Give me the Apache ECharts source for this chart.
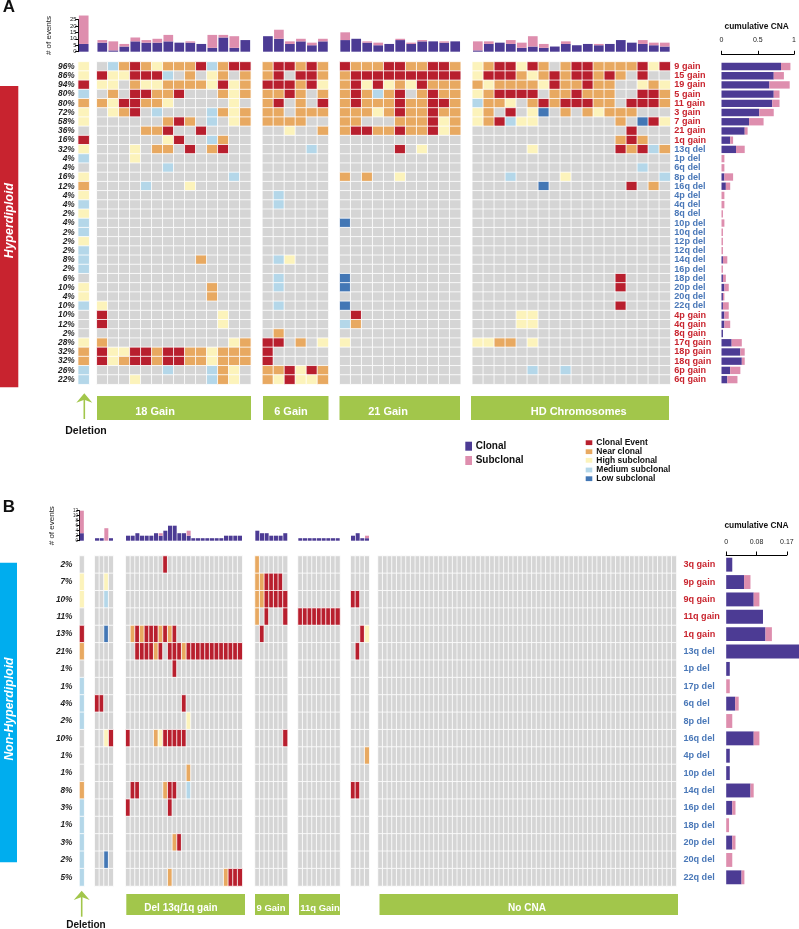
<!DOCTYPE html>
<html><head><meta charset="utf-8">
<style>html,body{margin:0;padding:0;background:#fff}#c{width:799px;height:929px}</style>
<script src="https://cdn.jsdelivr.net/npm/echarts@6/dist/echarts.min.js"></script>
</head><body><div id="c"></div>
<script>
// ---------- Panel A data ----------
const rowsA = ['9 gain','15 gain','19 gain','5 gain','11 gain','3 gain','7 gain','21 gain','1q gain','13q del','1p del','6q del','8p del','16q del','4p del','4q del','8q del','10p del','10q del','12p del','12q del','14q del','16p del','18p del','20p del','20q del','22q del','4p gain','4q gain','8q gain','17q gain','18p gain','18q gain','6p gain','6q gain'];
const pctA = [96,86,94,80,80,72,58,36,16,32,4,4,16,12,4,4,2,4,2,2,2,8,2,6,10,4,10,10,12,2,28,32,32,26,22];
// cell codes: . none, R clonal event, O near clonal, Y high, B medium, D low subclonal
const heatADel = ['Y','Y','R','B','O','Y','Y','.','R','Y','B','.','Y','O','Y','B','Y','B','B','Y','B','B','B','.','Y','Y','B','.','.','.','Y','O','O','B','B'];
const heatA18 = ['.BOROYOOORBORR','RYYRRRB.O.YO.O','YY.OYYOOOOYRYO','.O.RROOR...OYO','OYRROOY.....Y.','.YOR.B....BOYO','......ORO.B.YO','....OOR..R....','......YR..BO..','...Y.OO.R.OR..','...Y','......B','............B','....B...Y','','','','','','','','.........O','','','..........O','..........O','Y','R..........Y','R..........Y','','O...........YO','RYYRRORROOYOOO','RYORRORROOYOOO','......B...BOY.','...Y......BOY.'];
const heatA6 = ['ORRORO','OR.RRO','RRRORY','OORO.O','OR.O.R','OO.OOO','OOOO..','..Y..O','','....B.','','','','','.B','.B','','','','','','.BY','','.B','.B','','.B','','','.O','RR.O.Y','R','R','OORYRO','OYRYYO'];
const heatA21 = ['ROOORROORRO','ORRRRRRRRRR','ORYRYOYROOO','OROBOR.OROO','OROOOROORRO','OOOYOROOROO','OO...OOORYO','ORROOROORYO','','.....R.Y','','','O.O..Y','','','','','D','','','','','','D','D','','D','.R','BO','','Y','','','',''];
const heatAHD = ['YORRYRO.ORROOOORYR','YRRROYORORRORO.R..','OYOOOOYROOROO..YOY','YORRRR.OOROOO..RRO','BOOY.ORORRROO.RRRO','YO.R.YD.O.OYOOO...','YORBYY.......O.DRY','..............R','.............ORO','.....Y.......RORBO','','...............B','...B....Y........B','......D.......R.O','','','','','','','','','','.............R','.............R','','.............R','....YY','....YY','','YYOO.Y','','','.....B..B',''];
const barClonalA = [[6],[7,1,4,8,7,7,8,7,7,6,3,11,3,9],[12,10,6,8,5,8],[9,10,7,5,6,9,6,8,8,7,8],[1,6,7,6,3,4,3,4,6,5,6,5,6,9,7,6,5,4]];
const barSubA = [[22],[2,7,2,3,2,3,5,0,1,0,10,2,9,0],[0,7,2,2,2,2],[6,0,1,2,0,1,1,1,0,1,0],[7,2,0,3,4,8,3,0,2,0,0,1,0,0,0,3,2,3]];
const cnaClonalA = [.82,.72,.66,.72,.70,.52,.38,.32,.12,.20,0,0,.04,.06,0,0,0,0,0,0,0,.02,0,.02,.04,.02,.02,.04,.04,.02,.14,.26,.28,.12,.08];
const cnaSubA = [.13,.14,.28,.08,.10,.20,.20,.04,.04,.12,.04,.04,.12,.06,.04,.04,.02,.04,.02,.02,.02,.06,.02,.04,.06,.02,.08,.06,.08,0,.14,.06,.04,.14,.14];
const eventTicksA = [0,5,10,15,20,25];
const cnaTicksA = ['0','0.5','1'];
const groupLabelsA = ['18 Gain','6 Gain','21 Gain','HD Chromosomes'];
// ---------- Panel B data ----------
const rowsB = ['3q gain','9p gain','9q gain','11q gain','1q gain','13q del','1p del','17p del','6q del','8p del','16q del','4p del','10p del','14q del','16p del','18p del','20p del','20q del','22q del'];
const pctB = [2,7,10,11,13,21,1,1,4,2,10,1,1,8,3,1,3,2,5];
const heatBDel = ['.','Y','Y','.','R','O','.','B','B','B','.','.','.','O','B','B','B','B','B'];
const heatBEarly = ['','..Y','..B','','..D','','','','RR','','..YR','','','','','','','..D',''];
const heatB13q = ['........R','','','','.ORORRROROR','..RRRROR.RRRORRRRRRRRRRRR','..........R','','............R','.............Y','R.....OYRRRRR','','.............O','.RR.....ORR..B','R........R','','..........OR','','.........O...........ORRR'];
const heatB9 = ['O','OORRRR','OORRRRR','O.R...R','.R','','','','','','......R','','','','','','','',''];
const heatB11 = ['','','','RRRRRRRRR','','','','','','','','','','','','','','',''];
const heatBLate = ['','','RR','','..RY','.R','','','','','','...O','','RR','','','','',''];
const heatBNone = ['','','','','','','','','','','','','','','','','','',''];
const barClonalB = [[3],[1,1,0,1],[2,2,3,2,2,2,3,2,4,6,6,3,3,2,1,1,1,1,1,1,1,2,2,2,2],[4,3,3,2,2,2,3],[1,1,1,1,1,1,1,1,1],[2,3,1,1]];
const barSubB = [[9],[0,0,5,0],[0,0,0,0,0,0,0,1,0,0,0,0,0,2,0,0,0,0,0,0,0,0,0,0,0],[0,0,0,0,0,0,0],[0,0,0,0,0,0,0,0,0],[0,0,0,1]];
const cnaClonalB = [.017,.05,.077,.103,.11,.21,.01,0,.025,0,.077,.01,.01,.068,.017,0,.017,0,.043];
const cnaSubB = [0,.018,.016,0,.018,0,0,.01,.01,.017,.016,0,0,.009,.009,.008,.009,.017,.008];
const eventTicksB = [0,2,4,6,8,10,12];
const cnaTicksB = ['0','0.08','0.17'];
const groupLabelsB = ['Del 13q/1q gain','9 Gain','11q Gain','No CNA'];
const legendEvents = ['Clonal Event','Near clonal','High subclonal','Medium subclonal','Low subclonal'];
const legendClones = ['Clonal','Subclonal'];

// ---------- Styles and layout ----------
const cellColor = {'.':'#d5d5d5',R:'#b81f2e',O:'#e8a961',Y:'#fcf3bb',B:'#b4d7e9',D:'#4377b5'};
const NAVY='#4c3b94', PINK='#de8eae', GREEN='#a2c64b', RED='#c8232f', LBL_RED='#c9252f', LBL_BLUE='#4a78b8';
const FONT='"Liberation Sans",Arial,sans-serif';
const grid=[],xAxis=[],yAxis=[],series=[];

function addGrid(g,x,y){const i=grid.length;grid.push(g);xAxis.push(Object.assign({gridIndex:i},x));yAxis.push(Object.assign({gridIndex:i},y));return i;}
const hiddenCat=(data,extra)=>Object.assign({type:'category',data,axisLine:{show:false},axisTick:{show:false},axisLabel:{show:false},splitLine:{show:false}},extra||{});

function addHeat(matrix,nCols,rows,left,width,top,height,yExtra,bw){
  const cols=Array.from({length:nCols},(_,i)=>String(i));
  const i=addGrid({left,width,top,height},hiddenCat(cols),hiddenCat(rows,Object.assign({inverse:true},yExtra||{})));
  const data=[];
  matrix.forEach((s,r)=>{const row=s.padEnd(nCols,'.');for(let c=0;c<nCols;c++){data.push({value:[c,r,1],itemStyle:{color:cellColor[row[c]]}});}});
  series.push({type:'heatmap',xAxisIndex:i,yAxisIndex:i,data,silent:true,progressive:0,animation:false,itemStyle:{borderColor:'#fff',borderWidth:bw},emphasis:{disabled:true}});
}
function addBars(clonal,sub,left,width,top,height,ticks,yExtra,bw){
  const cols=clonal.map((_,i)=>String(i));
  const y=Object.assign({type:'value',min:0,max:ticks[ticks.length-1],interval:ticks[1]-ticks[0],show:false,splitLine:{show:false}},yExtra||{});
  const i=addGrid({left,width,top,height},hiddenCat(cols),y);
  [[clonal,NAVY],[sub,PINK]].forEach(([d,c])=>series.push({type:'bar',xAxisIndex:i,yAxisIndex:i,stack:'s'+i,data:d,barWidth:bw,clip:false,silent:true,itemStyle:{color:c},animation:false}));
}
function addCna(clonal,sub,rows,left,width,top,height,max,interval,labels,offset,margin){
  const i=addGrid({left,width,top,height},
   {type:'value',position:'top',min:0,max,interval,offset,
    axisLine:{show:true,lineStyle:{color:'#000',width:1}},axisTick:{show:true,length:3.5,lineStyle:{color:'#000'}},
    axisLabel:{fontSize:7,color:'#222',fontFamily:FONT,margin,hideOverlap:false,formatter:(v)=>labels[Math.round(v/interval)]},splitLine:{show:false}},
   hiddenCat(rows,{inverse:true}));
  [[clonal,NAVY],[sub,PINK]].forEach(([d,c])=>series.push({type:'bar',xAxisIndex:i,yAxisIndex:i,stack:'s'+i,data:d,barWidth:'80%',clip:false,silent:true,itemStyle:{color:c},animation:false}));
}
const rowLabelY=(margin,fs)=>({position:'right',axisLabel:{show:true,interval:0,margin,fontSize:fs,fontWeight:'bold',fontFamily:FONT,color:(v)=>v.indexOf('gain')>=0?LBL_RED:LBL_BLUE}});
const pctLabelY=(pct,margin)=>({axisLabel:{show:true,interval:0,margin,fontSize:8.3,fontWeight:'bold',fontStyle:'italic',fontFamily:FONT,color:'#222',formatter:(v,i)=>pct[i]+'%'}});
const evY=(gap,fs)=>({show:true,name:'# of events',nameLocation:'middle',nameRotate:90,nameGap:gap,nameTextStyle:{fontSize:8,color:'#222',fontFamily:FONT},
  axisLine:{show:true,lineStyle:{color:'#000'}},axisTick:{show:true,length:3,lineStyle:{color:'#000'}},axisLabel:{fontSize:fs,lineHeight:fs,margin:1.5,color:'#222',fontFamily:FONT,hideOverlap:false}});

// Panel A layout
const A={top:61.9,h:322.3,barTop:19.4,barH:32.3};
const colsA=[[heatADel,78.2,11],[heatA18,96.8,154],[heatA6,262.4,66],[heatA21,339.7,121],[heatAHD,472.3,198]];
const nA=[1,14,6,11,18];
colsA.forEach(([m,l,w],k)=>{
  const extra=k===0?pctLabelY(pctA,3.5):k===4?rowLabelY(4,9.1):null;
  addHeat(m,nA[k],rowsA,l,w,A.top,A.h,extra,0.8);
  addBars(barClonalA[k],barSubA[k],l,w,A.barTop,A.barH,eventTicksA,k===0?evY(25,6):null,'88%');
});
addCna(cnaClonalA,cnaSubA,rowsA,721.5,76.7,A.top,A.h,1,0.5,cnaTicksA,7.6,10.5);

// Panel B layout
const B={top:556,h:330,barTop:510.7,barH:30};
const colsB=[[heatBDel,79.5,4.66,1],[heatBEarly,94.7,18.6,4],[heatB13q,125.7,116.6,25],[heatB9,255,32.6,7],[heatB11,298,42,9],[heatBLate,350.7,18.6,4],[heatBNone,378,298.4,64]];
colsB.forEach(([m,l,w,n],k)=>{
  const extra=k===0?pctLabelY(pctB,7):k===6?rowLabelY(7,9.1):null;
  addHeat(m,n,rowsB,l,w,B.top,B.h,extra,0.8);
  if(k<6) addBars(barClonalB[k],barSubB[k],l,w,B.barTop,B.barH,eventTicksB,k===0?evY(24,4.6):null,'86%');
});
addCna(cnaClonalB,cnaSubB,rowsB,726.2,60.7,B.top,B.h,0.17,0.085,cnaTicksB,1,9);

// Annotations
const txt=(text,x,y,o)=>({type:'text',x,y,silent:true,style:Object.assign({text,fill:'#111',font:'bold 10px '+FONT,align:'center',verticalAlign:'middle'},o||{})});
const rect=(x,y,w,h,fill)=>({type:'rect',silent:true,shape:{x,y,width:w,height:h},style:{fill}});
const arrow=(x,tip,neck,end)=>[
 {type:'line',silent:true,shape:{x1:x,y1:neck-4,x2:x,y2:end},style:{stroke:GREEN,lineWidth:1.6}},
 {type:'polygon',silent:true,shape:{points:[[x,tip],[x+8,neck],[x,neck-3],[x-8,neck]]},style:{fill:GREEN}}];
const white={fill:'#fff'};
const gfx=[
 txt('A',9,7.5,{font:'bold 17px '+FONT}),txt('B',9,507,{font:'bold 17px '+FONT}),
 rect(0,86,18.3,301.3,RED),rect(0,562.7,17,299.6,'#00adee'),
 {type:'text',x:10,y:220.6,rotation:Math.PI/2,silent:true,style:{text:'Hyperdiploid',fill:'#fff',font:'italic bold 12.3px '+FONT,align:'center',verticalAlign:'middle'}},
 {type:'text',x:9.5,y:709,rotation:Math.PI/2,silent:true,style:{text:'Non-Hyperdiploid',fill:'#fff',font:'italic bold 12.3px '+FONT,align:'center',verticalAlign:'middle'}},
 rect(97,396,154,24,GREEN),rect(263,396,65.5,24,GREEN),rect(339.5,396,120.5,24,GREEN),rect(471,396,198,24,GREEN),
 txt(groupLabelsA[0],155,412,Object.assign({font:'bold 11px '+FONT},white)),txt(groupLabelsA[1],291,412,Object.assign({font:'bold 11px '+FONT},white)),
 txt(groupLabelsA[2],388,412,Object.assign({font:'bold 11px '+FONT},white)),txt(groupLabelsA[3],578.7,411.5,Object.assign({font:'bold 11px '+FONT},white)),
 rect(126.3,894,118.7,21,GREEN),rect(255,894,34,21,GREEN),rect(299,894,41,21,GREEN),rect(379.5,894,298.5,21,GREEN),
 txt(groupLabelsB[0],181,908,Object.assign({font:'bold 10px '+FONT},white)),txt(groupLabelsB[1],271,908,Object.assign({font:'bold 9.5px '+FONT},white)),
 txt(groupLabelsB[2],320,908,Object.assign({font:'bold 9.5px '+FONT},white)),txt(groupLabelsB[3],527,908,Object.assign({font:'bold 10px '+FONT},white)),
 ...arrow(84.3,393.3,402.7,419),...arrow(81.7,890.7,900,916.7),
 txt('Deletion',86,431,{font:'bold 10.5px '+FONT}),txt('Deletion',86,925,{font:'bold 10px '+FONT}),
 txt('cumulative CNA',756.7,27,{font:'bold 8.4px '+FONT}),txt('cumulative CNA',756.5,526,{font:'bold 8.4px '+FONT}),
 rect(465.3,441.7,6.7,9,NAVY),rect(465.3,456,6.7,9,PINK),
 txt(legendClones[0],475.7,446,{align:'left'}),txt(legendClones[1],475.7,460.3,{align:'left'})
];
const evY2=[442.7,451.7,460.3,470,478.7],evC=['R','O','Y','B','D'];
legendEvents.forEach((t,i)=>{gfx.push(rect(585.7,evY2[i]-2.4,6.6,4.8,cellColor[evC[i]]));gfx.push(txt(t,596.3,evY2[i],{align:'left',font:'bold 8.5px '+FONT}));});

const chart=echarts.init(document.getElementById('c'),null,{renderer:'canvas'});
chart.setOption({animation:false,backgroundColor:'#fff',tooltip:{show:false},grid,xAxis,yAxis,series,graphic:{elements:gfx}});
</script></body></html>
